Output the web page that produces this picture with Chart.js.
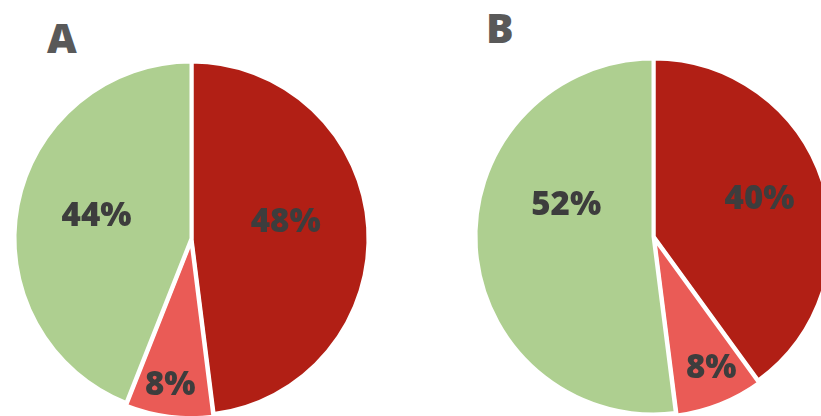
<!DOCTYPE html>
<html>
<head>
<meta charset="utf-8">
<script src="https://cdn.jsdelivr.net/npm/chart.js@4.4.0/dist/chart.umd.min.js"></script>
<style>
  html, body { margin: 0; padding: 0; background: #fff; }
  body { width: 821px; height: 416px; position: relative; overflow: hidden; }
  canvas { position: absolute; }
  .tag { position: absolute; font: 800 41px "Open Sans", sans-serif; line-height: 41px; color: #595959; }
</style>
</head>
<body>
<div class="tag" style="left:47px; top:17px;">A</div>
<div class="tag" style="left:486px; top:7px;">B</div>
<canvas id="pieA" width="365" height="365" style="left:9px; top:56px;"></canvas>
<canvas id="pieB" width="367" height="367" style="left:470px; top:53px;"></canvas>
<script>
// slice order, clockwise from 12 o'clock
var categories = ['Dark red', 'Light red', 'Green'];
var valuesA = [48, 8, 44];
var valuesB = [40, 8, 52];
var colors = ['#b11f15', '#ea5b56', '#aecf90'];

// label placement: [fraction of radius, angle tweak in degrees]
var labelPlaceA = [[0.54, -6], [0.84, 1], [0.55, 2]];
var labelPlaceB = [[0.63, -1], [0.81, -2], [0.52, 23]];

var pctLabels = {
  id: 'pctLabels',
  afterDatasetsDraw: function(chart) {
    var ctx = chart.ctx;
    var meta = chart.getDatasetMeta(0);
    var vals = chart.data.datasets[0].data;
    var place = chart.options.plugins.pctLabels.place;
    ctx.save();
    ctx.font = '800 33px "Open Sans", sans-serif';
    ctx.fillStyle = '#3d3d3d';
    ctx.textAlign = 'center';
    ctx.textBaseline = 'middle';
    meta.data.forEach(function(arc, i) {
      var p = arc.getProps(['x', 'y', 'startAngle', 'endAngle', 'outerRadius'], true);
      var mid = (p.startAngle + p.endAngle) / 2 + place[i][1] * Math.PI / 180;
      var r = p.outerRadius * place[i][0];
      ctx.fillText(vals[i] + '%', p.x + Math.cos(mid) * r, p.y + Math.sin(mid) * r);
    });
    ctx.restore();
  }
};

function makePie(id, values, place) {
  return new Chart(document.getElementById(id).getContext('2d'), {
    type: 'pie',
    data: {
      labels: categories,
      datasets: [{
        data: values,
        backgroundColor: colors,
        borderColor: '#ffffff',
        borderWidth: 4,
        offset: [0, 7, 0]
      }]
    },
    options: {
      responsive: false,
      animation: false,
      layout: { padding: 0 },
      plugins: {
        legend: { display: false },
        tooltip: { enabled: false },
        pctLabels: { place: place }
      }
    },
    plugins: [pctLabels]
  });
}

makePie('pieA', valuesA, labelPlaceA);
makePie('pieB', valuesB, labelPlaceB);
</script>
</body>
</html>
